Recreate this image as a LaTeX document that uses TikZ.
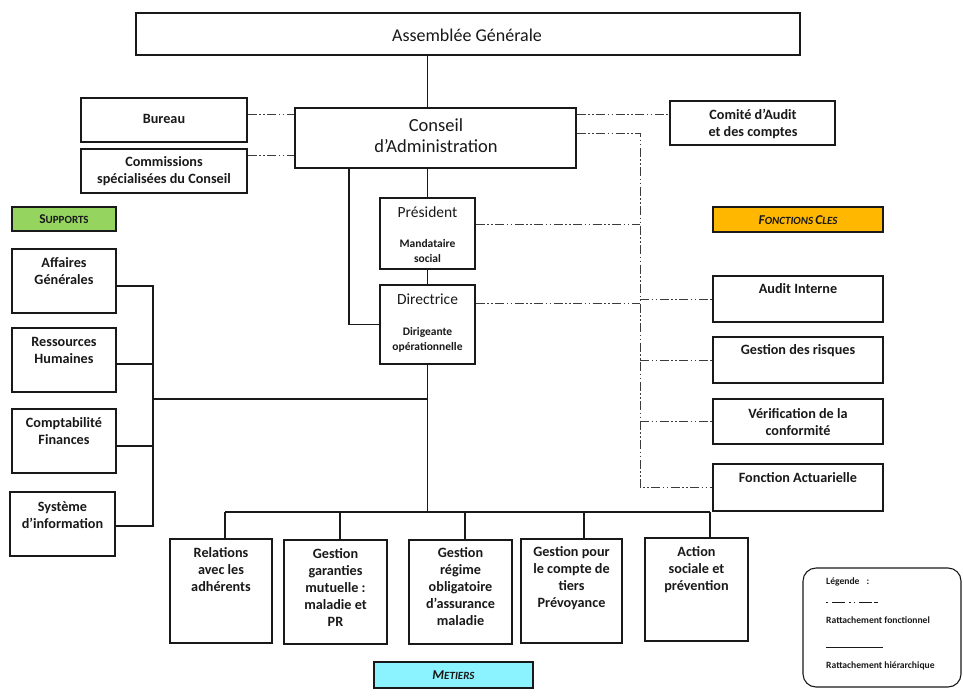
\documentclass[tikz,border=0pt]{standalone}
\usepackage{fontspec}
\setmainfont{Carlito}
\usetikzlibrary{fit}
\definecolor{supg}{RGB}{150,212,96}
\definecolor{fco}{RGB}{255,183,0}
\definecolor{metc}{RGB}{139,243,255}
\definecolor{ink}{RGB}{25,25,25}
\newcommand\fsc[2]{{\fontsize{13.5}{15}\selectfont #1}{\fontsize{11}{13}\selectfont #2}}
\tikzset{
  box/.style={draw=ink, line width=1.2pt, fill=white, inner sep=0pt},
  tag/.style={draw=ink, line width=1.1pt, inner sep=0pt},
  txt/.style={inner sep=0pt, align=center, text=ink},
  bt/.style={txt, font=\bfseries\fontsize{14.2}{17}\selectfont},
  st/.style={txt, font=\bfseries\fontsize{11.5}{15.5}\selectfont},
  lt/.style={inner sep=0pt, anchor=west, text=ink, font=\bfseries\fontsize{9.6}{11}\selectfont},
  hier/.style={draw=ink, line width=1.1pt},
  fn/.style={draw=ink!85, line width=0.9pt, dash pattern=on 9pt off 2.5pt on 1.5pt off 2.5pt on 1.5pt off 2.5pt},
}
\begin{document}
\begin{tikzpicture}[x=1pt,y=-1pt]
\useasboundingbox (0,0) rectangle (963,696);

% helper coordinates
\coordinate (yb) at (0,114);
\coordinate (yc) at (0,155);
\coordinate (yk) at (0,133);
\coordinate (ypr) at (0,224);
\coordinate (ydr) at (0,303);
\coordinate (sp) at (640,0);
\coordinate (cl) at (349,0);
\coordinate (br) at (153,0);
\coordinate (bj) at (0,399);
\coordinate (d1) at (225,512);
\coordinate (d2) at (340,512);
\coordinate (d3) at (465,512);
\coordinate (d4) at (584,512);
\coordinate (d5) at (710,512);
\coordinate (ya) at (0,286);
\coordinate (yr) at (0,364);
\coordinate (ycp) at (0,446);
\coordinate (ys) at (0,526);

% boxes
\node[box, fit={(136,13)(800,55)}] (ag) {};
\node[box, fit={(295,108)(576,168)}] (cons) {};
\node[box, fit={(81,98)(247,142)}] (bur) {};
\node[box, fit={(81,149)(247,193)}] (com) {};
\node[box, fit={(670,101)(835,145)}] (cac) {};
\node[box, fit={(380,198)(475,269)}] (pres) {};
\node[box, fit={(380,285)(475,364)}] (dir) {};
\node[tag, fill=supg, fit={(12,207)(116,231)}] (supl) {};
\node[tag, fill=fco, fit={(713,207)(883,232)}] (fcl) {};
\node[box, fit={(12,249)(116,313)}] (aff) {};
\node[box, fit={(12,328)(116,392)}] (rh) {};
\node[box, fit={(12,409)(116,473)}] (cpt) {};
\node[box, fit={(10,492)(115,556)}] (si) {};
\node[box, fit={(713,276)(883,322)}] (ai) {};
\node[box, fit={(713,337)(883,383)}] (gr) {};
\node[box, fit={(713,399)(883,444)}] (vc) {};
\node[box, fit={(713,464)(883,511)}] (fa) {};
\node[box, fit={(170,539)(272,643)}] (rel) {};
\node[box, fit={(284,540)(387,644)}] (gar) {};
\node[box, fit={(409,540)(512,644)}] (reg) {};
\node[box, fit={(521,539)(622,643)}] (tie) {};
\node[box, fit={(645,538)(748,641)}] (act) {};
\node[tag, fill=metc, fit={(374,662)(533,688)}] (metl) {};
\node[draw=ink, line width=1.1pt, rounded corners=13pt, inner sep=0pt, fit={(803,568)(961,687)}] (leg) {};

% hierarchical connectors
\draw[hier] (pres.north |- ag.south) -- (pres.north |- cons.north);
\draw[hier] (pres.north |- cons.south) -- (pres.north);
\draw[hier] (pres.south) -- (dir.north);
\draw[hier] (cl |- cons.south) |- (dir.west);
\draw[hier] (dir.south) -- (dir.south |- d1);
\draw[hier] (br |- bj) -- (dir.south |- bj);
\draw[hier] (aff.east |- ya) -- (br |- ya) -- (br |- ys) -- (si.east |- ys);
\draw[hier] (rh.east |- yr) -- (br |- yr);
\draw[hier] (cpt.east |- ycp) -- (br |- ycp);
\draw[hier] (d1) -- (d5);
\draw[hier] (d1) -- (d1 |- rel.north);
\draw[hier] (d2) -- (d2 |- gar.north);
\draw[hier] (d3) -- (d3 |- reg.north);
\draw[hier] (d4) -- (d4 |- tie.north);
\draw[hier] (d5) -- (d5 |- act.north);

% functional connectors
\draw[fn] (bur.east |- yb) -- (cons.west |- yb);
\draw[fn] (com.east |- yc) -- (cons.west |- yc);
\draw[fn] (cons.east |- yb) -- (cac.west |- yb);
\draw[fn] (cons.east |- yk) -| (sp |- fa.west) -- (fa.west);
\draw[fn] (pres.east |- ypr) -- (sp |- ypr);
\draw[fn] (dir.east |- ydr) -- (sp |- ydr);
\draw[fn] (sp |- ai.west) -- (ai.west);
\draw[fn] (sp |- gr.west) -- (gr.west);
\draw[fn] (sp |- vc.west) -- (vc.west);

% texts
\node[txt, font=\fontsize{18}{21}\selectfont] (agT) at (467,35) {Assemblée Générale};
\node[txt, font=\fontsize{18.5}{21}\selectfont] (consT) at (436,136) {Conseil\\d’Administration};
\node[bt] (burT) at (164,119) {Bureau};
\node[bt] (comT) at (164,171) {Commissions\\spécialisées du Conseil};
\node[bt] (cacT) at (753,124) {Comité d’Audit\\et des comptes};
\node[txt, font=\fontsize{15.5}{18}\selectfont] (presT) at (427.5,212) {Président};
\node[st] (presS) at (427.5,251) {Mandataire\\social};
\node[txt, font=\fontsize{15.5}{18}\selectfont] (dirT) at (427.5,299) {Directrice};
\node[st] (dirS) at (427.5,340) {Dirigeante\\opérationnelle};
\node[txt, font=\bfseries] (supT) at (64,219) {\fsc{S}{UPPORTS}};
\node[txt, font=\itshape\bfseries] (fcT) at (798,220) {\fsc{F}{ONCTIONS} \fsc{C}{LES}};
\node[txt, font=\itshape\bfseries] (metT) at (453.5,675) {\fsc{M}{ETIERS}};
\node[bt] (affT) at (64,271) {Affaires\\Générales};
\node[bt] (rhT) at (64,350) {Ressources\\Humaines};
\node[bt] (cptT) at (64,431) {Comptabilité\\Finances};
\node[bt] (siT) at (62.5,515) {Système\\d’information};
\node[bt] (aiT) at (798,289) {Audit Interne};
\node[bt] (grT) at (798,351) {Gestion des risques};
\node[bt] (vcT) at (798,422) {Vérification de la\\conformité};
\node[bt] (faT) at (798,478) {Fonction Actuarielle};
\node[bt] (relT) at (221,570) {Relations\\avec les\\adhérents};
\node[bt] (garT) at (335.5,587) {Gestion\\garanties\\mutuelle :\\maladie et\\PR};
\node[bt] (regT) at (460.5,587) {Gestion\\régime\\obligatoire\\d’assurance\\maladie};
\node[bt] (tieT) at (571.5,578) {Gestion pour\\le compte de\\tiers\\Prévoyance};
\node[bt] (actT) at (696.5,570) {Action\\sociale et\\prévention};

% legend
\node[lt] (legT) at (826,582) {Légende\hspace{7pt}:};
\coordinate (ls1) at (826,602);
\coordinate (ls2) at (880,602);
\draw[draw=ink, line width=0.9pt, dash pattern=on 2pt off 4pt on 13pt off 4pt on 1.5pt off 3pt on 1.5pt off 4pt on 13pt] (ls1) -- (ls2);
\node[lt] (legF) at (826,620) {Rattachement fonctionnel};
\coordinate (lh1) at (826,647);
\coordinate (lh2) at (883,647);
\draw[hier, line width=0.9pt] (lh1) -- (lh2);
\node[lt] (legH) at (826,666) {Rattachement hiérarchique};
\end{tikzpicture}
\end{document}
